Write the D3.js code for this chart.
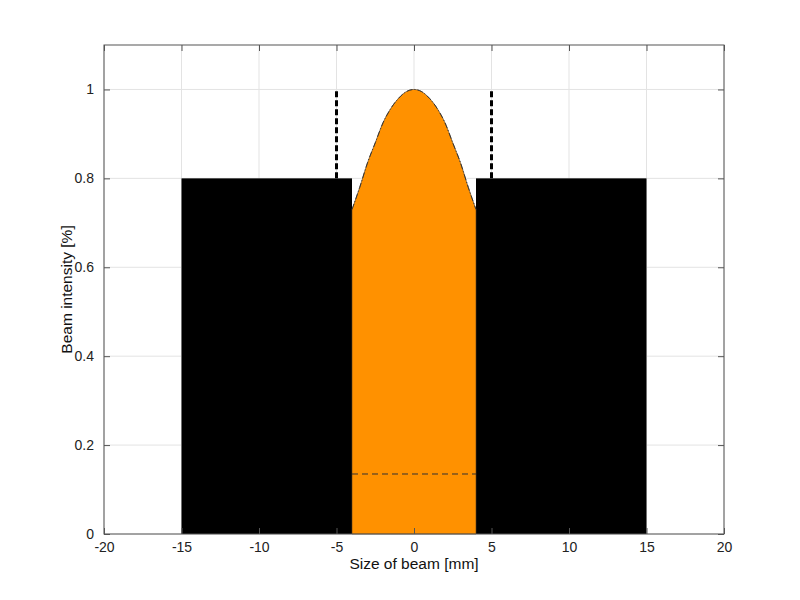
<!DOCTYPE html>
<html><head><meta charset="utf-8">
<script src="https://cdn.jsdelivr.net/npm/d3@7"></script>
<style>body{margin:0;background:#fff}svg{display:block}text{font-family:"Liberation Sans",Arial,Helvetica,sans-serif}</style>
</head><body><svg id="c" width="800" height="600"></svg>
<script>
const xTicks = [-20,-15,-10,-5,0,5,10,15,20];
const yTicks = [0,0.2,0.4,0.6,0.8,1];
const blocks = [{x0:-15,x1:-4,h:0.8},{x0:4,x1:15,h:0.8}];
const beamX = [-4,-3.5,-3,-2.5,-2,-1.5,-1,-0.5,0,0.5,1,1.5,2,2.5,3,3.5,4];
const beamY = [0.73,0.78,0.835,0.88,0.925,0.957,0.98,0.995,1.0,0.995,0.98,0.957,0.925,0.88,0.835,0.78,0.73];
const markerX = [-5,5];
const markerY = [0.8,1.0];
const levelY = 0.135;

const svg = d3.select('#c');
const L=104,R=724,T=45,B=534;
const x = d3.scaleLinear().domain([-20,20]).range([L,R]);
const y = d3.scaleLinear().domain([0,1.1]).range([B,T]);

// grid
svg.append('g').selectAll('line').data(xTicks).join('line')
  .attr('x1',d=>x(d)).attr('x2',d=>x(d)).attr('y1',T).attr('y2',B)
  .attr('stroke','#e3e3e3').attr('stroke-width',1);
svg.append('g').selectAll('line').data(yTicks).join('line')
  .attr('x1',L).attr('x2',R).attr('y1',d=>y(d)).attr('y2',d=>y(d))
  .attr('stroke','#e3e3e3').attr('stroke-width',1);

// black blocks
svg.append('g').selectAll('rect').data(blocks).join('rect')
  .attr('x',d=>x(d.x0)).attr('width',d=>x(d.x1)-x(d.x0))
  .attr('y',d=>y(d.h)).attr('height',d=>y(0)-y(d.h)).attr('fill','#000');

// orange beam
const pts = beamX.map((v,i)=>[v,beamY[i]]);
const area = d3.area().x(d=>x(d[0])).y0(y(0)).y1(d=>y(d[1])).curve(d3.curveMonotoneX);
svg.append('path').datum(pts).attr('d',area).attr('fill','#ff9100')
  .attr('stroke','#5a4020').attr('stroke-width',0.6);
const line = d3.line().x(d=>x(d[0])).y(d=>y(d[1])).curve(d3.curveMonotoneX);
svg.append('path').datum(pts).attr('d',line).attr('fill','none')
  .attr('stroke','#333').attr('stroke-width',1).attr('stroke-dasharray','6,2,1,2');

// dashed level line
svg.append('line').attr('x1',x(beamX[0])).attr('x2',x(beamX[beamX.length-1]))
  .attr('y1',y(levelY)).attr('y2',y(levelY))
  .attr('stroke','#333').attr('stroke-width',1).attr('stroke-dasharray','6,4');

// vertical markers
svg.append('g').selectAll('line').data(markerX).join('line')
  .attr('x1',d=>x(d)).attr('x2',d=>x(d)).attr('y1',y(markerY[0])).attr('y2',y(markerY[1]))
  .attr('stroke','#000').attr('stroke-width',3).attr('stroke-dasharray','6,3');

// axes box
const ax = '#555';
svg.append('rect').attr('x',L).attr('y',T).attr('width',R-L).attr('height',B-T)
  .attr('fill','none').attr('stroke',ax).attr('stroke-width',1);

const gx = svg.append('g').attr('transform',`translate(0,${B})`)
  .call(d3.axisBottom(x).tickValues(xTicks).tickSize(-6).tickPadding(8).tickFormat(d=>String(d)));
const gxt = svg.append('g').attr('transform',`translate(0,${T})`)
  .call(d3.axisTop(x).tickValues(xTicks).tickSize(-6).tickFormat(''));
const gy = svg.append('g').attr('transform',`translate(${L},0)`)
  .call(d3.axisLeft(y).tickValues(yTicks).tickSize(-6).tickPadding(10).tickFormat(d=>String(d)));
const gyr = svg.append('g').attr('transform',`translate(${R},0)`)
  .call(d3.axisRight(y).tickValues(yTicks).tickSize(-6).tickFormat(''));
[gx,gxt,gy,gyr].forEach(g=>{
  g.select('.domain').remove();
  g.selectAll('line').attr('stroke',ax);
  g.selectAll('text').attr('font-size',14).attr('fill','#222');
});

svg.append('text').attr('x',(L+R)/2).attr('y',569).attr('text-anchor','middle')
  .attr('font-size',15.5).attr('fill','#111').text('Size of beam [mm]');
svg.append('text').attr('transform',`translate(72,${(T+B)/2}) rotate(-90)`).attr('text-anchor','middle')
  .attr('font-size',15.5).attr('fill','#111').text('Beam intensity [%]');
</script></body></html>
